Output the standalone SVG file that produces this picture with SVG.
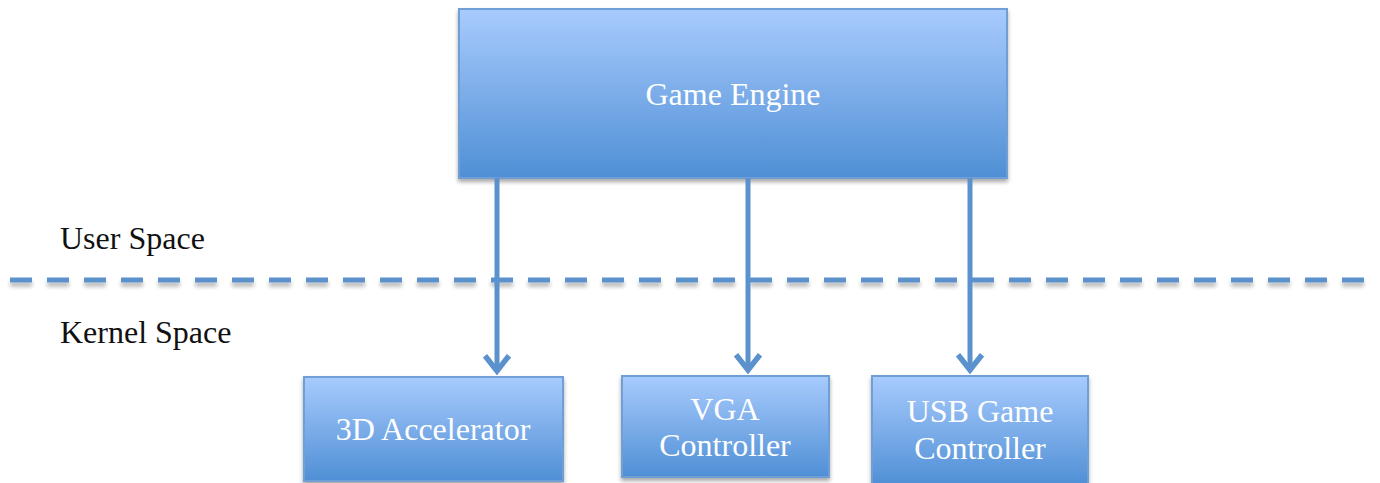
<svg xmlns="http://www.w3.org/2000/svg" width="1380" height="483" viewBox="0 0 1380 483">
  <style>
    .box { fill: url(#boxFill); stroke: #6f9fd6; stroke-width: 2; filter: url(#shadow); }
    .label { font-family: "Liberation Serif", "DejaVu Serif", serif; font-size: 32px; fill: #ffffff; text-anchor: middle; }
    .side { font-family: "Liberation Serif", "DejaVu Serif", serif; font-size: 32px; fill: #111111; }
    .conn { stroke: #5b91cc; stroke-width: 5; fill: none; }
  </style>
  <defs>
    <linearGradient id="boxFill" x1="0" y1="0" x2="0" y2="1">
      <stop offset="0" stop-color="#a8cbfd"/>
      <stop offset="1" stop-color="#4f8fd5"/>
    </linearGradient>
    <filter id="shadow" x="-5%" y="-5%" width="110%" height="125%">
      <feGaussianBlur in="SourceAlpha" stdDeviation="2"/>
      <feOffset dy="3" result="b"/>
      <feComponentTransfer><feFuncA type="linear" slope="0.35"/></feComponentTransfer>
      <feMerge><feMergeNode/><feMergeNode in="SourceGraphic"/></feMerge>
    </filter>
    <filter id="lineShadow" filterUnits="userSpaceOnUse" x="0" y="268" width="1380" height="28">
      <feGaussianBlur in="SourceAlpha" stdDeviation="2"/>
      <feOffset dy="4"/>
      <feComponentTransfer><feFuncA type="linear" slope="0.3"/></feComponentTransfer>
      <feMerge><feMergeNode/><feMergeNode in="SourceGraphic"/></feMerge>
    </filter>
    <marker id="chev" markerWidth="24" markerHeight="30" refX="18" refY="13" orient="auto" markerUnits="userSpaceOnUse" viewBox="0 0 22 26">
      <path d="M4,2 L18,13 L4,24" fill="none" stroke="#5b91cc" stroke-width="5" stroke-linejoin="miter"/>
    </marker>
  </defs>

  <!-- user/kernel boundary -->
  <line x1="10" y1="280" x2="1378" y2="280" stroke="#5b91cc" stroke-width="5" stroke-dasharray="22 15" filter="url(#lineShadow)"/>
  <text class="side" x="60" y="249">User Space</text>
  <text class="side" x="60" y="343">Kernel Space</text>

  <g id="game-engine">
    <rect class="box" x="459" y="9" width="548" height="169"/>
    <text class="label" x="733" y="105">Game Engine</text>
  </g>

  <g id="accel-3d">
    <rect class="box" x="304" y="377" width="259" height="104"/>
    <text class="label" x="433" y="440">3D Accelerator</text>
  </g>

  <g id="vga-controller">
    <rect class="box" x="622" y="376" width="207" height="101"/>
    <text class="label" x="725" y="420">VGA</text>
    <text class="label" x="725" y="456">Controller</text>
  </g>

  <g id="usb-controller">
    <rect class="box" x="872" y="376" width="216" height="110"/>
    <text class="label" x="980" y="422">USB Game</text>
    <text class="label" x="980" y="459">Controller</text>
  </g>

  <g id="connectors">
    <line class="conn" x1="497" y1="178" x2="497" y2="371" marker-end="url(#chev)"/>
    <line class="conn" x1="748" y1="178" x2="748" y2="370" marker-end="url(#chev)"/>
    <line class="conn" x1="970" y1="178" x2="970" y2="370" marker-end="url(#chev)"/>
  </g>
</svg>
